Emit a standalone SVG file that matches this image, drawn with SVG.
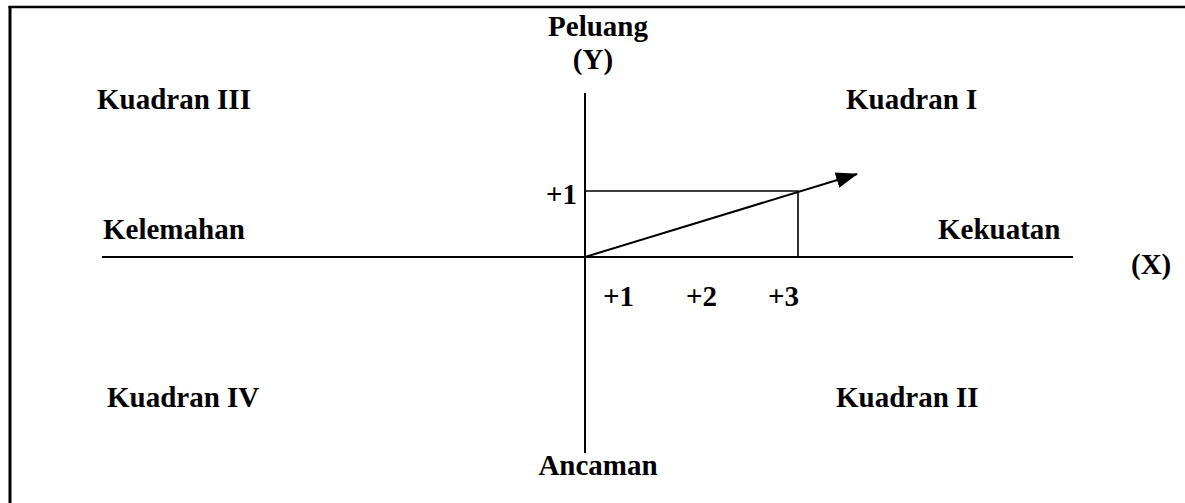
<svg xmlns="http://www.w3.org/2000/svg" width="1185" height="503" viewBox="0 0 1185 503">
<style>
  .t { font-family: "Liberation Serif", "Times New Roman", serif; font-weight: bold; font-size: 29px; fill: #000; }
  .ax { stroke: #000; stroke-width: 2; fill: none; }
  .thin { stroke: #000; stroke-width: 1.6; fill: none; }
</style>
<defs>
  <marker id="ahb" markerWidth="22" markerHeight="16" refX="21" refY="8" orient="auto" markerUnits="userSpaceOnUse" viewBox="0 0 22 16">
    <path d="M0,0 L22,8 L0,16 Z" fill="#000"/>
  </marker>
</defs>
<rect width="1185" height="503" fill="#fff"/>
<g id="frame">
  <line x1="10" y1="6" x2="10" y2="503" stroke="#000" stroke-width="3"/>
  <line x1="8.5" y1="7" x2="1185" y2="7" stroke="#000" stroke-width="2.5"/>
</g>
<g id="connectors">
  <line class="ax" x1="585" y1="93" x2="585" y2="453"/>
  <line class="ax" x1="102" y1="257" x2="1073" y2="257"/>
  <polyline class="thin" points="585,191 798,191 798,257"/>
  <line class="ax" x1="585" y1="257" x2="857" y2="174" marker-end="url(#ahb)"/>
</g>
<g id="label-y">
  <text class="t" x="598" y="36" text-anchor="middle">Peluang</text>
  <text class="t" x="593" y="69" text-anchor="middle">(Y)</text>
</g>
<g id="kuadran-iii"><text class="t" x="97" y="109">Kuadran III</text></g>
<g id="kuadran-i"><text class="t" x="846" y="109">Kuadran I</text></g>
<g id="tick-y1"><text class="t" x="546" y="204">+1</text></g>
<g id="kelemahan"><text class="t" x="103" y="239">Kelemahan</text></g>
<g id="kekuatan"><text class="t" x="938" y="239">Kekuatan</text></g>
<g id="label-x"><text class="t" x="1131" y="274">(X)</text></g>
<g id="ticks-x">
  <text class="t" x="603" y="306">+1</text>
  <text class="t" x="686" y="306">+2</text>
  <text class="t" x="768" y="306">+3</text>
</g>
<g id="kuadran-iv"><text class="t" x="107" y="407">Kuadran IV</text></g>
<g id="kuadran-ii"><text class="t" x="836" y="407">Kuadran II</text></g>
<g id="ancaman"><text class="t" x="598" y="475" text-anchor="middle">Ancaman</text></g>
</svg>
